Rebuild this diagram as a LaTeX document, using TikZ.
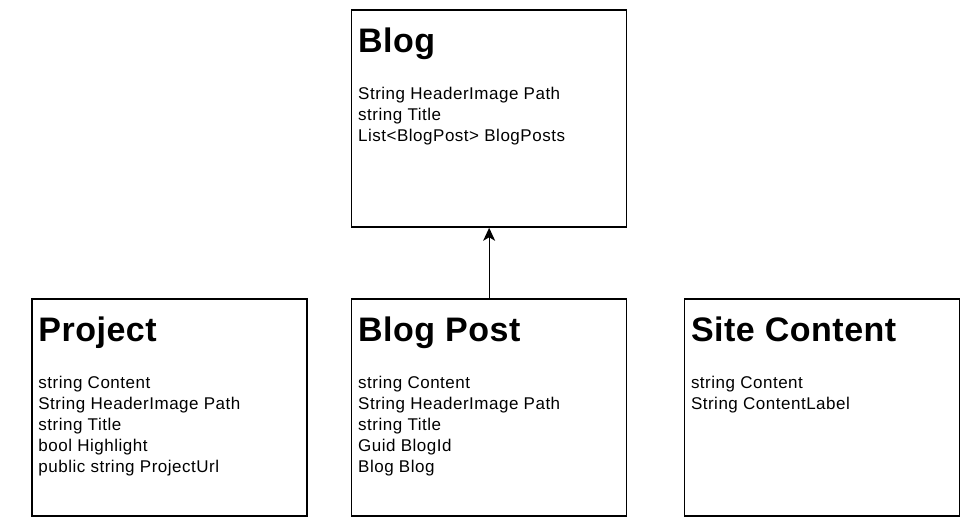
\documentclass[tikz,border=0pt]{standalone}
\usepackage{fontspec}
\setmainfont{Liberation Sans}
\newfontfamily\attrfont[LetterSpace=3]{Liberation Sans}
\newfontfamily\titlefont[LetterSpace=1.5]{Liberation Sans}
\usetikzlibrary{positioning,arrows.meta}

\tikzset{
  classbox/.style={draw, line width=1.3pt, minimum width=275pt, minimum height=217pt, inner sep=0pt, anchor=north west},
  classtitle/.style={font=\titlefont\fontsize{34}{40}\selectfont\bfseries, anchor=base west, inner sep=0pt},
  classattrs/.style={font=\attrfont\fontsize{17}{21}\selectfont, align=left, anchor=north west, inner sep=0pt},
}

\begin{document}
\begin{tikzpicture}[x=1pt, y=-1pt]
    \useasboundingbox (0,0) rectangle (978,529);

    % Boxes
    \node[classbox] (blog) at (351,9.5) {};
    \node[classbox, below=70.5pt of blog] (post) {};
    \node[classbox, left=43.5pt of post] (project) {};
    \node[classbox, right=56.5pt of post] (site) {};

    % Titles
    \node[classtitle] (blogtitle) at ([xshift=7pt, yshift=-43pt]blog.north west) {Blog};
    \node[classtitle] (posttitle) at ([xshift=7pt, yshift=-43pt]post.north west) {Blog Post};
    \node[classtitle] (projecttitle) at ([xshift=7pt, yshift=-43pt]project.north west) {Project};
    \node[classtitle] (sitetitle) at ([xshift=7pt, yshift=-43pt]site.north west) {Site Content};

    % Attributes
    \node[classattrs] (blogattrs) at ([xshift=7pt, yshift=-77.5pt]blog.north west)
        {String HeaderImage Path\\string Title\\List<BlogPost> BlogPosts};
    \node[classattrs] (postattrs) at ([xshift=7pt, yshift=-77.5pt]post.north west)
        {string Content\\String HeaderImage Path\\string Title\\Guid BlogId\\Blog Blog};
    \node[classattrs] (projectattrs) at ([xshift=7pt, yshift=-77.5pt]project.north west)
        {string Content\\String HeaderImage Path\\string Title\\bool Highlight\\public string ProjectUrl};
    \node[classattrs] (siteattrs) at ([xshift=7pt, yshift=-77.5pt]site.north west)
        {string Content\\String ContentLabel};

    % Association
    \draw[-{Stealth[length=13pt, width=12pt, inset=3.5pt]}, line width=1.3pt] (post.north) -- (blog.south);
\end{tikzpicture}
\end{document}
